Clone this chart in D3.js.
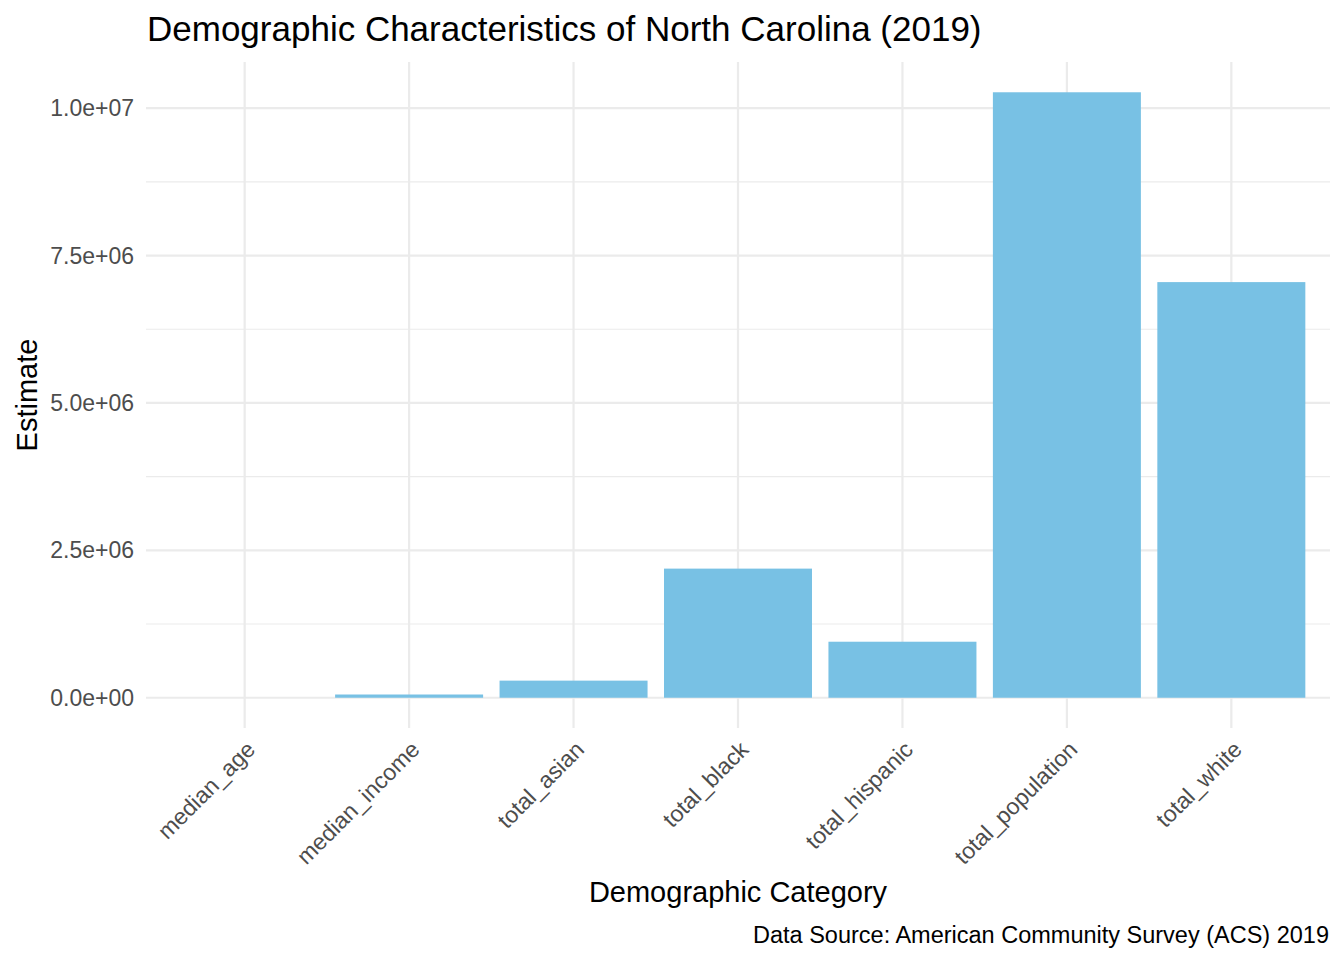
<!DOCTYPE html>
<html>
<head>
<meta charset="utf-8">
<script src="https://cdn.jsdelivr.net/npm/d3@7"></script>
<style>
  body { margin: 0; background: #fff; }
  text { font-family: "Liberation Sans", Arial, Helvetica, sans-serif; }
</style>
</head>
<body>
<script>
// data
const categories = ["median_age", "median_income", "total_asian", "total_black",
                    "total_hispanic", "total_population", "total_white"];
const estimates = [38.9, 54602, 290000, 2190000, 950000, 10270000, 7050000];
const yTicks = [0, 2500000, 5000000, 7500000, 10000000];
const yMinor = [1250000, 3750000, 6250000, 8750000];
const yTickLabels = ["0.0e+00", "2.5e+06", "5.0e+06", "7.5e+06", "1.0e+07"];

const W = 1344, H = 960;
const panel = {left: 146, right: 1330, top: 62, bottom: 728};

const svg = d3.select("body").append("svg")
  .attr("width", W)
  .attr("height", H);

// ggplot style: discrete axis expands 0.6 on each side
const x = d3.scaleLinear()
  .domain([1 - 0.6, categories.length + 0.6])
  .range([panel.left, panel.right]);
const ymax = d3.max(estimates);
const y = d3.scaleLinear()
  .domain([-0.05 * ymax, ymax * 1.05])
  .range([panel.bottom, panel.top]);

const grid = svg.append("g");
// minor horizontal
grid.selectAll("line.minor").data(yMinor).join("line")
  .attr("x1", panel.left).attr("x2", panel.right)
  .attr("y1", d => y(d)).attr("y2", d => y(d))
  .style("stroke", "#ebebeb").style("stroke-width", 1.1);
// major horizontal
grid.selectAll("line.major").data(yTicks).join("line")
  .attr("x1", panel.left).attr("x2", panel.right)
  .attr("y1", d => y(d)).attr("y2", d => y(d))
  .style("stroke", "#ebebeb").style("stroke-width", 2.2);
// vertical
grid.selectAll("line.vert").data(categories).join("line")
  .attr("x1", (d, i) => x(i + 1)).attr("x2", (d, i) => x(i + 1))
  .attr("y1", panel.top).attr("y2", panel.bottom)
  .style("stroke", "#ebebeb").style("stroke-width", 2.2);

// bars
svg.append("g").selectAll("rect").data(estimates).join("rect")
  .attr("x", (d, i) => x(i + 1 - 0.45))
  .attr("width", x(1.45) - x(0.55))
  .attr("y", d => y(d))
  .attr("height", d => y(0) - y(d))
  .style("fill", "#78c1e4");

// y tick labels
svg.append("g").selectAll("text").data(yTicks).join("text")
  .attr("x", panel.left - 12)
  .attr("y", d => y(d))
  .attr("dy", "0.35em")
  .attr("text-anchor", "end")
  .style("font-size", "23px")
  .style("fill", "#4d4d4d")
  .text((d, i) => yTickLabels[i]);

// x tick labels (45 degrees)
svg.append("g").selectAll("text").data(categories).join("text")
  .attr("transform", (d, i) => `translate(${x(i + 1) + 12},${panel.bottom + 23}) rotate(-45)`)
  .attr("text-anchor", "end")
  .style("font-size", "23px")
  .style("fill", "#4d4d4d")
  .text(d => d);

// title
svg.append("text")
  .attr("x", 147).attr("y", 41)
  .style("font-size", "35px")
  .style("fill", "#000")
  .text("Demographic Characteristics of North Carolina (2019)");

// axis titles
svg.append("text")
  .attr("x", (panel.left + panel.right) / 2).attr("y", 902)
  .attr("text-anchor", "middle")
  .style("font-size", "29px")
  .text("Demographic Category");

svg.append("text")
  .attr("transform", `translate(37,${(panel.top + panel.bottom) / 2}) rotate(-90)`)
  .attr("text-anchor", "middle")
  .style("font-size", "29px")
  .text("Estimate");

// caption
svg.append("text")
  .attr("x", panel.right - 1).attr("y", 943)
  .attr("text-anchor", "end")
  .style("font-size", "23.5px")
  .text("Data Source: American Community Survey (ACS) 2019");
</script>
</body>
</html>
